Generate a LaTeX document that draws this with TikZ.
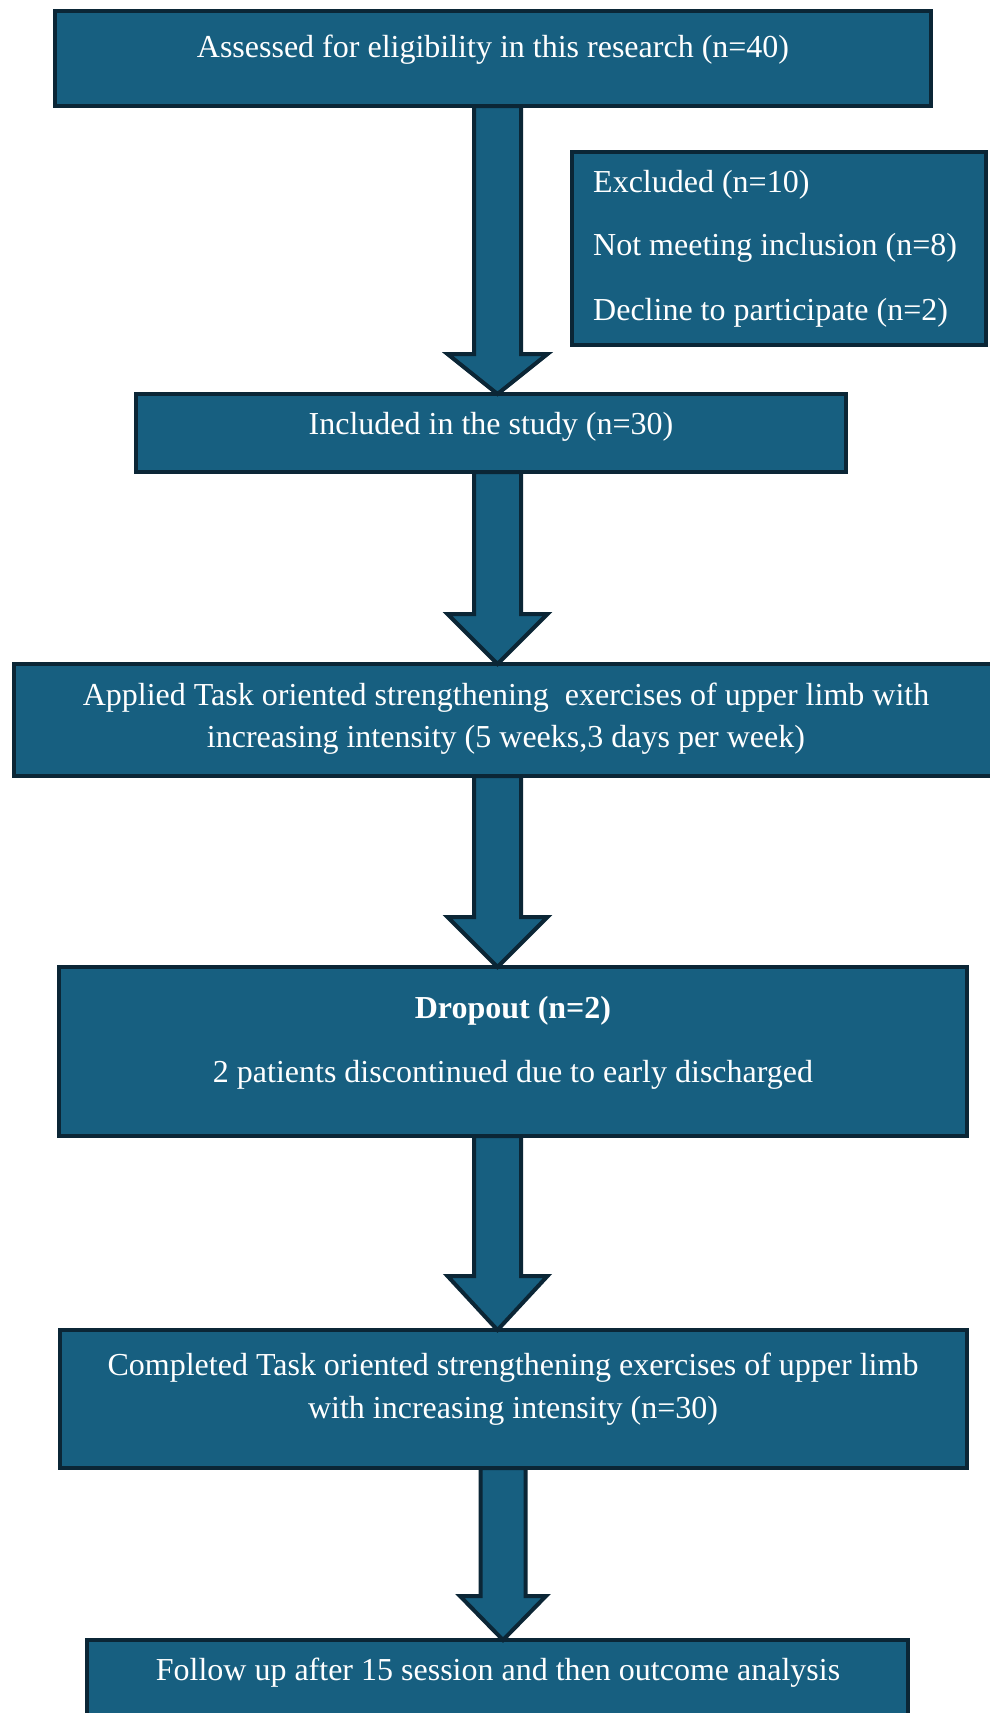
\documentclass[tikz,border=0pt]{standalone}
\usepackage{fontspec}
\setmainfont{Liberation Serif}
\usetikzlibrary{calc}
\definecolor{boxfill}{HTML}{175F80}
\definecolor{boxline}{HTML}{0B2636}
\tikzset{
  flowbox/.style={draw=boxline, fill=boxfill, line width=4pt, rectangle,
    inner sep=0pt, outer sep=0pt, anchor=north west},
  txt/.style={text=white, inner sep=0pt, anchor=base,
    font=\fontsize{32}{42}\selectfont},
  txtl/.style={txt, anchor=base west},
  blockarrow/.style={draw=boxline, fill=boxfill, line width=4pt, line join=miter}
}
% #1 from node, #2 to node, #3 x, #4 head length, #5 head half width, #6 shaft half width
\newcommand\blockarr[6]{%
  \draw[blockarrow] let \p1=(#1.south), \p2=(#2.north) in
    (#3-#6,\y1) -- (#3-#6,\y2+#4) -- (#3-#5,\y2+#4) -- (#3,\y2)
    -- (#3+#5,\y2+#4) -- (#3+#6,\y2+#4) -- (#3+#6,\y1) -- cycle;
}
\begin{document}
\begin{tikzpicture}[x=1pt,y=-1pt]
\useasboundingbox (0,0) rectangle (990,1713);
\fill[white] (0,0) rectangle (990,1713);
\clip (0,0) rectangle (990,1713);

% boxes
\node[flowbox, minimum width=876pt, minimum height=95pt] (b1) at (55,11) {};
\node[flowbox, minimum width=414pt, minimum height=193pt] (ex) at (572,152) {};
\node[flowbox, minimum width=710pt, minimum height=78pt] (b2) at (136,394) {};
\node[flowbox, minimum width=986pt, minimum height=112pt] (b3) at (14,664) {};
\node[flowbox, minimum width=908pt, minimum height=169pt] (b4) at (59,967) {};
\node[flowbox, minimum width=907pt, minimum height=138pt] (b5) at (60,1330) {};
\node[flowbox, minimum width=821pt, minimum height=120pt] (b6) at (87,1640) {};

% arrows
\blockarr{b1}{b2}{497.5}{40}{50}{23.5}
\blockarr{b3}{b4}{497.5}{50}{50}{23.5}
\blockarr{b2}{b3}{497.5}{50}{50}{23.5}
\blockarr{b4}{b5}{497.5}{54}{50}{23.5}
\blockarr{b5}{b6}{503}{44}{43}{22.5}

% texts
\node[txt] (t1) at (493,57) {Assessed for eligibility in this research (n=40)};
\node[txtl] (e1) at (593,192) {Excluded (n=10)};
\node[txtl] (e2) at (593,255) {Not meeting inclusion (n=8)};
\node[txtl] (e3) at (593,320) {Decline to participate (n=2)};
\node[txt] (t2) at (491,434) {Included in the study (n=30)};
\node[txt] (t3a) at (506,705) {Applied Task oriented strengthening\ \ exercises of upper limb with};
\node[txt] (t3b) at (506,747) {increasing intensity (5 weeks,3 days per week)};
\node[txt, font=\fontsize{32}{42}\selectfont\bfseries] (t4a) at (513,1018) {Dropout (n=2)};
\node[txt] (t4b) at (513,1082) {2 patients discontinued due to early discharged};
\node[txt] (t5a) at (513,1375) {Completed Task oriented strengthening exercises of upper limb};
\node[txt] (t5b) at (513,1418) {with increasing intensity (n=30)};
\node[txt] (t6) at (498,1680) {Follow up after 15 session and then outcome analysis};
\end{tikzpicture}
\end{document}
